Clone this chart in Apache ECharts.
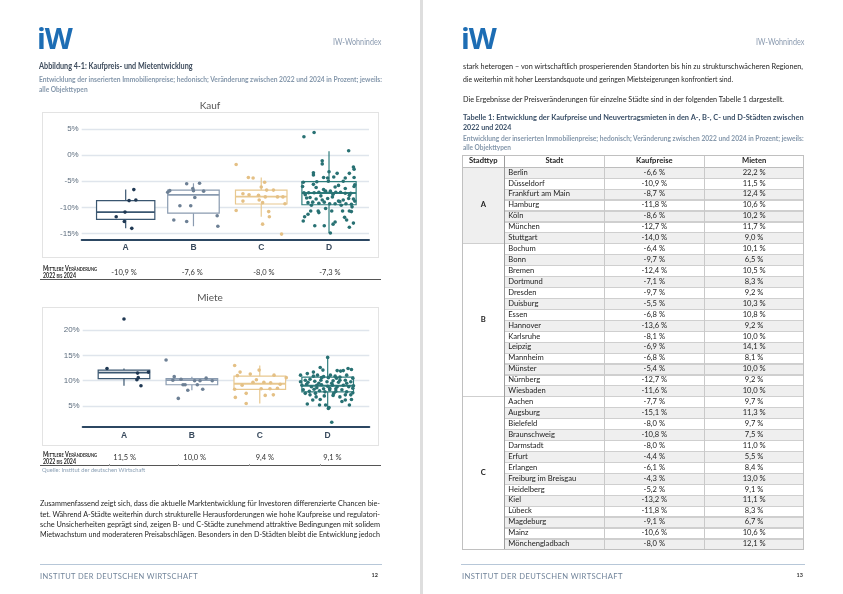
<!DOCTYPE html>
<html><head><meta charset="utf-8">
<script src="https://cdn.jsdelivr.net/npm/echarts@6/dist/echarts.min.js"></script>
<style>
html,body{margin:0;padding:0;}
body{width:843px;height:594px;position:relative;overflow:hidden;background:#fff;font-family:Lato,'Open Sans',sans-serif;}
.t{position:absolute;white-space:nowrap;}
.r{position:absolute;box-sizing:border-box;}
#chart{position:absolute;left:0;top:0;width:843px;height:594px;}
</style></head><body>
<div class="r" style="left:420px;top:0;width:3px;height:594px;background:#dedede"></div>
<div class="r" style="left:41.7px;top:112px;width:337.3px;height:146px;border:1px solid #e3e3e3"></div>
<div class="r" style="left:41.7px;top:306.7px;width:337.3px;height:139px;border:1px solid #e3e3e3"></div>
<div id="chart"></div>
<script>
// ---------- chart data ----------
const categories = ['A','B','C','D'];
const yTicksKauf = [-15,-10,-5,0,5];
const yTicksMiete = [5,10,15,20];
// box stats: [lower whisker, Q1, median, Q3, upper whisker]
const kaufBoxStats = [[-14.0,-12.3,-10.9,-8.7,-6.6],[-13.6,-11.1,-7.6,-6.7,-5.4],[-11.8,-9.35,-7.95,-6.7,-4.3],[-14.9,-9.5,-7.25,-5.1,0.7]];
const mieteBoxStats = [[9.0,10.4,11.6,12.1,12.4],[8.1,9.2,10.1,10.4,10.8],[5.5,8.3,9.4,10.9,13.0],[4.5,7.8,9.0,10.7,14.7]];
const kaufMeans = ['-10,9 %','-7,6 %','-8,0 %','-7,3 %'];
const mieteMeans = ['11,5 %','10,0 %','9,4 %','9,1 %'];

const kaufValsA = [-6.6,-10.9,-8.7,-11.8,-8.6,-12.7,-14.0];
const kaufJitA  = [0.12,-0.01,0.05,-0.14,0.15,-0.02,0.09];
const kaufValsB = [-6.4,-9.7,-12.4,-7.1,-9.7,-5.5,-6.8,-13.6,-8.1,-6.9,-6.8,-5.4,-12.7,-11.6];
const kaufJitB  = [-0.01,-0.20,-0.29,-0.38,-0.04,-0.10,-0.35,0.36,0.02,0.15,0.0,0.09,-0.10,0.35];
const kaufValsC = [-7.7,-15.1,-8.0,-10.8,-8.0,-4.4,-6.1,-4.3,-5.2,-13.2,-11.8,-9.1,-10.6,-8.0,-1.8,-6.7,-6.7,-7.4,-7.6,-8.8,-8.6,-9.3];
const kaufJitC  = [-0.04,0.30,0.06,0.11,0.24,-0.12,0.00,-0.19,0.05,0.02,0.12,0.02,-0.37,0.32,-0.37,0.08,0.18,-0.27,-0.18,-0.27,-0.03,0.35];
const kaufValsD = [3.5,4.3,0.8,-1.1,-1.7,-2.3,-2.7,-3.4,-3.8,-3.5,-3.2,-3.5,-4.3,-4.4,-4.2,-4.4,-4.3,-5.2,-5.6,-5.0,-5.0,-5.7,-6.0,-6.0,-7.2,-7.2,-7.1,-6.9,-6.9,-7.1,-7.1,-7.3,-7.3,-7.2,-8.1,-8.4,-7.8,-8.3,-8.0,-8.8,-8.6,-8.3,-8.4,-9.1,-9.0,-9.2,-9.0,-9.3,-9.3,-8.9,-9.3,-9.4,-8.8,-7.6,-6.2,-6.1,-6.4,-5.1,-10.7,-10.7,-11.0,-10.7,-10.7,-10.7,-11.8,-11.3,-11.9,-12.6,-13.5,-13.5,-13.2,-12.8,-13.8,-13.0,-14.9,-10.8,-12.4,-6.6,-7.5,-8.6,-9.6,-9.6,-7.7,-8.2,-5.8,-10.2,-9.9];
const kaufJitD  = [-0.37,-0.22,0.29,-0.10,-0.10,0.36,0.37,-0.23,-0.23,0.12,0.00,0.30,-0.08,-0.02,0.07,0.24,0.37,-0.38,-0.23,-0.01,0.21,0.38,-0.39,0.37,-0.30,-0.22,-0.15,-0.05,0.02,0.10,0.17,0.24,0.32,-0.37,-0.28,-0.19,-0.12,-0.02,0.05,0.14,0.21,0.29,0.36,-0.31,-0.24,-0.15,-0.07,0.01,0.09,0.16,0.25,0.33,0.38,-0.35,-0.19,0.09,0.24,-0.18,-0.27,-0.16,-0.15,0.04,0.20,0.30,-0.36,-0.31,0.23,-0.38,-0.21,-0.07,0.06,0.09,0.30,0.36,0.02,0.33,0.26,-0.08,0.06,-0.10,-0.26,0.18,0.30,-0.33,0.14,-0.05,0.34];

const mieteValsA = [22.2,11.5,12.4,10.6,10.2,11.7,9.0];
const mieteJitA  = [0.0,0.20,-0.25,0.21,0.19,0.36,0.25];
const mieteValsB = [10.1,6.5,10.5,8.3,9.2,10.3,10.8,9.2,10.0,14.1,8.1,10.0,9.2,10.0];
const mieteJitB  = [-0.28,-0.20,0.21,0.16,-0.10,-0.16,-0.26,0.08,0.04,-0.38,-0.06,0.30,-0.13,0.12];
const mieteValsC = [9.7,11.3,9.7,7.5,11.0,5.5,8.4,13.0,9.1,11.1,8.3,6.7,10.6,12.1,11.7,9.6,9.3,8.4,7.1,7.2,8.5,10.2];
const mieteJitC  = [0.06,-0.14,-0.10,-0.20,-0.33,-0.20,0.15,-0.37,-0.26,0.21,-0.37,-0.36,0.39,-0.01,-0.29,0.16,0.30,0.02,0.08,0.20,0.26,-0.05];
const mieteValsD = [14.6,12.6,12.1,12.4,12.2,12.0,11.9,12.0,11.1,11.4,10.9,11.1,10.8,11.1,10.9,10.7,11.1,10.5,10.1,10.3,9.9,10.1,9.8,10.0,9.7,10.1,9.8,9.1,9.3,8.8,9.1,9.2,8.9,9.1,8.8,9.1,8.8,9.0,8.2,7.9,8.3,8.0,7.8,8.2,7.9,8.2,7.8,7.6,7.2,6.8,7.0,7.1,6.8,7.2,6.2,6.3,6.2,6.3,5.4,5.2,4.7,4.5,5.9,1.8,8.5,8.6,10.5,9.7,8.4,9.5,10.6,7.5,7.5,9.5,7.2,8.4,11.7,5.2,5.2,8.5,9.8,9.5,7.5,10.1,10.6];
const mieteJitD  = [0.0,-0.11,-0.07,0.30,0.35,0.14,0.19,0.23,-0.40,-0.30,-0.21,-0.15,-0.06,0.04,0.11,0.18,0.28,0.37,-0.33,-0.26,-0.19,-0.10,-0.01,0.08,0.16,0.26,0.34,-0.38,-0.31,-0.24,-0.16,-0.09,0.00,0.07,0.14,0.23,0.31,0.38,-0.36,-0.27,-0.20,-0.12,-0.04,0.03,0.12,0.21,0.28,0.37,-0.26,-0.17,-0.05,0.08,0.18,0.34,-0.22,-0.11,0.26,0.35,-0.30,-0.03,0.02,0.01,0.21,0.06,0.03,-0.16,0.13,-0.29,-0.06,0.28,-0.09,0.09,-0.33,-0.13,0.26,0.12,-0.21,-0.12,0.32,0.37,-0.40,0.06,-0.18,0.18,0.01];

// ---------- table data ----------
const tableGroups = ['A','B','C'];
const tableGroupSizes = [7,14,14];
const tableCities = ['Berlin','Düsseldorf','Frankfurt am Main','Hamburg','Köln','München','Stuttgart',
 'Bochum','Bonn','Bremen','Dortmund','Dresden','Duisburg','Essen','Hannover','Karlsruhe','Leipzig','Mannheim','Münster','Nürnberg','Wiesbaden',
 'Aachen','Augsburg','Bielefeld','Braunschweig','Darmstadt','Erfurt','Erlangen','Freiburg im Breisgau','Heidelberg','Kiel','Lübeck','Magdeburg','Mainz','Mönchengladbach'];
const tableKauf = ['-6,6 %','-10,9 %','-8,7 %','-11,8 %','-8,6 %','-12,7 %','-14,0 %',
 '-6,4 %','-9,7 %','-12,4 %','-7,1 %','-9,7 %','-5,5 %','-6,8 %','-13,6 %','-8,1 %','-6,9 %','-6,8 %','-5,4 %','-12,7 %','-11,6 %',
 '-7,7 %','-15,1 %','-8,0 %','-10,8 %','-8,0 %','-4,4 %','-6,1 %','-4,3 %','-5,2 %','-13,2 %','-11,8 %','-9,1 %','-10,6 %','-8,0 %'];
const tableMieten = ['22,2 %','11,5 %','12,4 %','10,6 %','10,2 %','11,7 %','9,0 %',
 '10,1 %','6,5 %','10,5 %','8,3 %','9,2 %','10,3 %','10,8 %','9,2 %','10,0 %','14,1 %','8,1 %','10,0 %','9,2 %','10,0 %',
 '9,7 %','11,3 %','9,7 %','7,5 %','11,0 %','5,5 %','8,4 %','13,0 %','9,1 %','11,1 %','8,3 %','6,7 %','10,6 %','12,1 %'];
const tableHeaders = ['Stadttyp','Stadt','Kaufpreise','Mieten'];

// ---------- helpers ----------
function txt(o){
  const d=document.createElement('div');
  d.className='t';
  d.textContent=o.t;
  d.style.fontSize=o.s+'px';
  d.style.lineHeight=(o.s*1.3)+'px';
  d.style.top=(o.y-o.s*0.68)+'px';
  d.style.color=o.c||'#222';
  d.style.fontWeight=o.w||400;
  if(o.f) d.style.fontFamily=o.f;
  if(o.ls) d.style.letterSpacing=o.ls+'px';
  if(o.sc) d.style.fontVariant='small-caps';
  d.style.left='0px';
  document.body.appendChild(d);
  const wNat=d.getBoundingClientRect().width;
  let scale=1, wEff=wNat;
  if(o.W){
    if(o.just && wNat<o.W){
      const n=(o.t.match(/ /g)||[]).length;
      if(n) d.style.wordSpacing=((o.W-wNat)/n)+'px';
      wEff=o.W;
    } else if(o.exact || wNat>o.W){ scale=o.W/wNat; wEff=o.W; }
  }
  let left=o.x;
  if(o.align==='right') left=o.x-wEff; else if(o.align==='center') left=o.x-wEff/2;
  d.style.left=left+'px';
  if(scale!==1){ d.style.transformOrigin='left center'; d.style.transform='scaleX('+scale+')'; }
  return d;
}
function box(x,y,w,h,bg,extra){
  const d=document.createElement('div'); d.className='r';
  d.style.cssText+=`left:${x}px;top:${y}px;width:${w}px;height:${h}px;background:${bg};`+(extra||'');
  document.body.appendChild(d); return d;
}
function logo(x){
  const d=document.createElement('div'); d.className='t';
  d.textContent='iW';
  d.style.cssText+=`left:${x}px;top:23px;font-family:'Open Sans',sans-serif;font-weight:700;font-size:29px;line-height:29px;color:#1d6db4;letter-spacing:-1px;`;
  document.body.appendChild(d);
}

// ---------- left page ----------
const BLUEGRAY='#8497ab', DARK='#1e1e1e';
logo(37);
txt({x:381,y:42.7,t:'IW-Wohnindex',s:8.5,c:'#8b9bb0',align:'right',W:48.3,exact:true});
txt({x:38.7,y:66.7,t:'Abbildung 4-1: Kaufpreis- und Mietentwicklung',s:8.5,w:700,c:'#3d4b5c',W:153.6,exact:true});
txt({x:38.7,y:80,t:'Entwicklung der inserierten Immobilienpreise; hedonisch; Veränderung zwischen 2022 und 2024 in Prozent; jeweils:',s:7,w:700,c:BLUEGRAY,W:343,exact:true});
txt({x:38.7,y:90,t:'alle Objekttypen',s:7,w:700,c:BLUEGRAY,W:48.6,exact:true});
txt({x:210,y:106,t:'Kauf',s:10,c:'#555',align:'center'});
txt({x:210,y:298,t:'Miete',s:10,c:'#555',align:'center'});

function summary(yLab1,yLab2,yVal,yLine,means,xs){
  txt({x:42.7,y:yLab1,t:'Mittlere Veränderung',s:6.8,w:700,sc:true,c:'#222',W:54,exact:true});
  txt({x:42.7,y:yLab2,t:'2022 bis 2024',s:6.8,w:700,sc:true,c:'#222',W:33,exact:true});
  means.forEach((m,i)=>txt({x:xs[i],y:yVal,t:m,s:7.5,c:'#333'}));
  box(40,yLine-0.7,341,1.4,'#555');
}
summary(268.3,275.7,273,279.3,kaufMeans,[111.3,181.7,253.3,319.3]);
summary(454.7,461.3,458.3,465.7,mieteMeans,[113.3,183.3,255.7,323.3]);
[109,178,249,320].forEach(x=>box(x,463.5,0.8,2.2,'#999'));
txt({x:41.7,y:470.5,t:'Quelle: Institut der deutschen Wirtschaft',s:6.5,c:'#8ba0b5',W:103.3,exact:true});

const leftPara=['Zusammenfassend zeigt sich, dass die aktuelle Marktentwicklung für Investoren differenzierte Chancen bie-',
'tet. Während A-Städte weiterhin durch strukturelle Herausforderungen wie hohe Kaufpreise und regulatori-',
'sche Unsicherheiten geprägt sind, zeigen B- und C-Städte zunehmend attraktive Bedingungen mit solidem',
'Mietwachstum und moderateren Preisabschlägen. Besonders in den D-Städten bleibt die Entwicklung jedoch'];
[503,514,524.7,534.7].forEach((y,i)=>txt({x:40,y,t:leftPara[i],s:8,c:DARK,W:340,just:true}));

box(40,563.5,341.7,1,'#b7c7d8');
txt({x:40,y:577.5,t:'INSTITUT DER DEUTSCHEN WIRTSCHAFT',s:7.6,c:'#71849a',ls:0.4,W:158,exact:true});
txt({x:378,y:576,t:'12',s:5.5,w:700,c:'#333',align:'right'});

// ---------- right page ----------
logo(461);
txt({x:804.3,y:42.7,t:'IW-Wohnindex',s:8.5,c:'#8b9bb0',align:'right',W:48.3,exact:true});
txt({x:462.7,y:66.7,t:'stark heterogen – von wirtschaftlich prosperierenden Standorten bis hin zu strukturschwächeren Regionen,',s:8,c:DARK,W:340,just:true});
txt({x:462.7,y:79,t:'die weiterhin mit hoher Leerstandsquote und geringen Mietsteigerungen konfrontiert sind.',s:8,c:DARK,W:270});
txt({x:462.7,y:99,t:'Die Ergebnisse der Preisveränderungen für einzelne Städte sind in der folgenden Tabelle 1 dargestellt.',s:8,c:DARK,W:321,exact:true});
txt({x:462.7,y:117.7,t:'Tabelle 1: Entwicklung der Kaufpreise und Neuvertragsmieten in den A-, B-, C- und D-Städten zwischen',s:8.4,w:700,c:'#3b5068',W:340.6,exact:true});
txt({x:462.7,y:127.7,t:'2022 und 2024',s:8.4,w:700,c:'#3b5068',W:48.3,exact:true});
txt({x:462.7,y:139,t:'Entwicklung der inserierten Immobilienpreise; hedonisch; Veränderung zwischen 2022 und 2024 in Prozent; jeweils:',s:7,w:700,c:BLUEGRAY,W:340.6,exact:true});
txt({x:462.7,y:147.5,t:'alle Objekttypen',s:7,w:700,c:BLUEGRAY,W:48,exact:true});

// table: backgrounds, then rules, then text
const TX=[462.3,504.3,604.3,704.3,804], TY0=155, TH=12.3, RH=10.93, ROW0=TY0+TH;
const nRows=tableCities.length;
box(TX[0],TY0,TX[4]-TX[0],TH,'#fff');
tableCities.forEach((c,i)=>box(TX[1],ROW0+i*RH,TX[4]-TX[1],RH,i%2===0?'#efefef':'#ffffff'));
let gStart=0;
const groupCenters=[];
tableGroups.forEach((g,k)=>{
  const y=ROW0+gStart*RH, h=tableGroupSizes[k]*RH;
  box(TX[0],y,TX[1]-TX[0],h,k===0?'#efefef':'#fff');
  groupCenters.push(y+h/2);
  gStart+=tableGroupSizes[k];
});
tableCities.forEach((c,i)=>box(TX[1],ROW0+(i+1)*RH-0.6,TX[4]-TX[1],1.2,'#cfcfcf'));
gStart=0;
tableGroups.forEach((g,k)=>{ gStart+=tableGroupSizes[k]; box(TX[0],ROW0+gStart*RH-0.6,TX[1]-TX[0],1.2,'#cfcfcf'); });
box(TX[0],TY0+TH-0.6,TX[4]-TX[0],1.2,'#bdbdbd');
[1,2,3].forEach(j=>box(TX[j]-0.5,TY0,1,TH+nRows*RH,j===1?'#9c9c9c':'#c9c9c9'));
box(TX[0],TY0,TX[4]-TX[0],TH+nRows*RH,'transparent','border:1px solid #c0c0c0;');
tableCities.forEach((c,i)=>{
  const yc=ROW0+i*RH+RH/2;
  txt({x:TX[1]+4,y:yc,t:c,s:7.6,c:'#222'});
  txt({x:(TX[2]+TX[3])/2,y:yc,t:tableKauf[i],s:7.6,c:'#222',align:'center'});
  txt({x:(TX[3]+TX[4])/2,y:yc,t:tableMieten[i],s:7.6,c:'#222',align:'center'});
});
tableGroups.forEach((g,k)=>txt({x:(TX[0]+TX[1])/2,y:groupCenters[k],t:g,s:7.6,w:700,c:'#222',align:'center'}));
tableHeaders.forEach((h,j)=>txt({x:(TX[j]+TX[j+1])/2,y:TY0+TH/2,t:h,s:7.6,w:700,c:'#222',align:'center'}));

box(461,563.5,344,1,'#b7c7d8');
txt({x:462,y:577.5,t:'INSTITUT DER DEUTSCHEN WIRTSCHAFT',s:7.6,c:'#71849a',ls:0.4,W:161,exact:true});
txt({x:803,y:576,t:'13',s:5.5,w:700,c:'#333',align:'right'});

// ---------- charts ----------
const BOXCOL=['#3a5670','#8a9bb0','#e8c88f','#2e7d7d'];
const PTCOL=['#1f3853','#6d8095','#e4c085','#287173'];
const chart=echarts.init(document.getElementById('chart'),null,{renderer:'canvas'});

function boxSeries(stats,gi,halfW){
  return {type:'custom',xAxisIndex:gi,yAxisIndex:gi,z:2,silent:true,
    data:stats.map((s,i)=>[i].concat(s)),
    encode:{x:0,y:[1,2,3,4,5]},
    renderItem:(params,api)=>{
      const i=api.value(0), c=BOXCOL[i], hw=halfW[i];
      const mn=api.value(1),q1=api.value(2),md=api.value(3),q3=api.value(4),mx=api.value(5);
      const tl=api.coord([i-hw,q3]), br=api.coord([i+hw,q1]);
      const cx=api.coord([i,md])[0];
      const yMn=api.coord([i,mn])[1], yMx=api.coord([i,mx])[1], yMd=api.coord([i,md])[1];
      const ls={stroke:c,lineWidth:1.2};
      return {type:'group',children:[
        {type:'line',shape:{x1:cx,y1:yMx,x2:cx,y2:tl[1]},style:ls},
        {type:'line',shape:{x1:cx,y1:br[1],x2:cx,y2:yMn},style:ls},
        {type:'rect',shape:{x:tl[0],y:tl[1],width:br[0]-tl[0],height:br[1]-tl[1]},style:{fill:'#ffffff',stroke:c,lineWidth:1.2}},
        {type:'line',shape:{x1:tl[0],y1:yMd,x2:br[0],y2:yMd},style:{stroke:c,lineWidth:1.8}}
      ]};
    }};
}
function pts(vals,jit,cat,gi){
  return {type:'scatter',xAxisIndex:gi,yAxisIndex:gi,z:3,silent:true,symbolSize:3.6,
    itemStyle:{color:PTCOL[cat],opacity:1},
    data:vals.map((v,i)=>[cat+(jit[i]||0),v])};
}
function xAxisFor(gi,min,max){
  return {gridIndex:gi,type:'value',min,max,
    splitLine:{show:false},
    axisTick:{show:false,customValues:[0,1,2,3]},
    axisLine:{show:true,onZero:false,lineStyle:{color:'#2c4762',width:2}},
    axisLabel:{customValues:[0,1,2,3],formatter:v=>categories[Math.round(v)],fontWeight:'bold',color:'#3a4b5e',fontSize:8.5,margin:4,fontFamily:'Liberation Sans'}};
}
function yAxisFor(gi,min,max,ticks,margin){
  return {gridIndex:gi,type:'value',min,max,
    axisLine:{show:false},
    axisTick:{show:false,customValues:ticks},
    axisLabel:{customValues:ticks,formatter:v=>v+'%',color:'#5d6d7e',fontSize:8,margin,fontFamily:'Liberation Sans'},
    splitLine:{show:true,lineStyle:{color:'#dfe5ec',width:1.3}}};
}
chart.setOption({
  animation:false,
  grid:[{left:81.7,right:843-369,top:126.2,bottom:594-239.6},
        {left:82.7,right:843-369.3,top:313.4,bottom:594-426.7}],
  xAxis:[xAxisFor(0,-0.649,3.59),xAxisFor(1,-0.608,3.613)],
  yAxis:[yAxisFor(0,-16.15,5.5,yTicksKauf,3),yAxisFor(1,0.91,23.3,yTicksMiete,3)],
  series:[
    boxSeries(kaufBoxStats,0,[0.43,0.38,0.38,0.40]),
    pts(kaufValsA,kaufJitA,0,0),pts(kaufValsB,kaufJitB,1,0),pts(kaufValsC,kaufJitC,2,0),pts(kaufValsD,kaufJitD,3,0),
    boxSeries(mieteBoxStats,1,[0.38,0.38,0.38,0.38]),
    pts(mieteValsA,mieteJitA,0,1),pts(mieteValsB,mieteJitB,1,1),pts(mieteValsC,mieteJitC,2,1),pts(mieteValsD,mieteJitD,3,1)
  ]
});
</script>
</body></html>
